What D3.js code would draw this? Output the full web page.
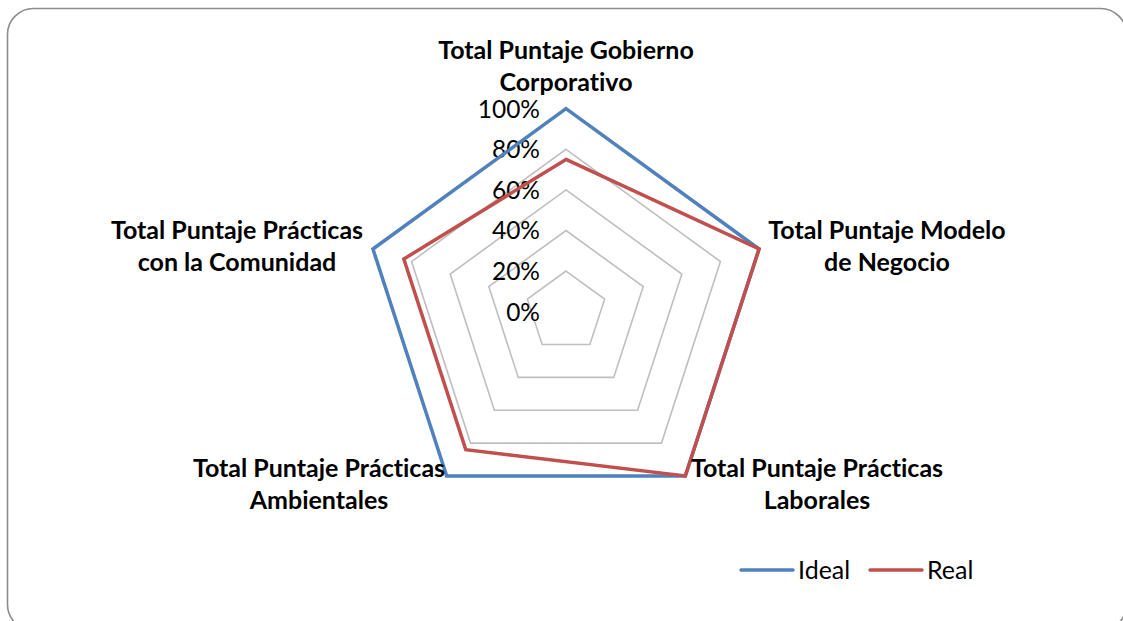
<!DOCTYPE html>
<html>
<head>
<meta charset="utf-8">
<script src="https://cdn.jsdelivr.net/npm/d3@7"></script>
<style>
  body { margin: 0; background: #fff; }
  text { font-family: Lato, "Open Sans", sans-serif; fill: #000; font-variant-ligatures: none; font-feature-settings: "liga" 0, "dlig" 0; }
</style>
</head>
<body>
<script>
// chart data
const categories = [
  ["Total Puntaje Gobierno", "Corporativo"],
  ["Total Puntaje Modelo", "de Negocio"],
  ["Total Puntaje Prácticas", "Laborales"],
  ["Total Puntaje Prácticas", "Ambientales"],
  ["Total Puntaje Prácticas", "con la Comunidad"]
];
const ideal = [1, 1, 1, 1, 1];
const real = [0.75, 1, 1, 0.84, 0.84];
const tickValues = [0, 0.2, 0.4, 0.6, 0.8, 1];
const seriesNames = ["Ideal", "Real"];

let svg = d3.select('body')
  .append('svg')
  .attr('width', 1123)
  .attr('height', 621);

// frame
svg.append('rect')
  .attr('x', 7.5)
  .attr('y', 8.5)
  .attr('width', 1119)
  .attr('height', 622)
  .attr('rx', 26)
  .attr('fill', 'white')
  .attr('stroke', '#8c8c8c')
  .attr('stroke-width', 1.6);

const cx = 566, cy = 311.7;
let r = d3.scaleLinear().domain([0, 1]).range([0, 203]);
let angle = d3.scaleLinear().domain([0, categories.length]).range([0, 2 * Math.PI]);

function pt(i, v) {
  let a = angle(i);
  return [cx + r(v) * Math.sin(a), cy - r(v) * Math.cos(a)];
}

// grid rings
let ringLine = d3.line().curve(d3.curveLinearClosed);
svg.selectAll('.ring')
  .data(tickValues.filter(t => t > 0))
  .enter()
  .append('path')
  .attr('d', t => ringLine(categories.map((c, i) => pt(i, t))))
  .attr('fill', 'none')
  .attr('stroke', '#bfbfbf')
  .attr('stroke-width', 1.6);

// tick labels
svg.selectAll('.tick')
  .data(tickValues)
  .enter()
  .append('text')
  .attr('x', cx - 26)
  .attr('y', t => cy - r(t))
  .attr('dy', '0.36em')
  .attr('text-anchor', 'end')
  .style('font-size', '24.5px')
  .text(d3.format('.0%'));

// series
const series = [
  { name: seriesNames[0], values: ideal, color: '#4f81bd' },
  { name: seriesNames[1], values: real, color: '#c0504d' }
];
svg.selectAll('.series')
  .data(series)
  .enter()
  .append('path')
  .attr('d', s => ringLine(s.values.map((v, i) => pt(i, v))))
  .attr('fill', 'none')
  .attr('stroke', s => s.color)
  .attr('stroke-width', 3.5)
  .attr('stroke-linejoin', 'miter');

// category labels
const labelPos = [[566, 50], [887, 230], [817, 468], [319, 468], [237, 230]];
categories.forEach((c, i) => {
  let t = svg.append('text')
    .attr('text-anchor', 'middle')
    .attr('font-weight', 'bold')
    .style('font-size', '25px');
  c.forEach((line, j) => {
    t.append('tspan')
      .attr('x', labelPos[i][0])
      .attr('y', labelPos[i][1] + j * 32)
      .attr('dy', '0.36em')
      .text(line);
  });
});

// legend
let legend = svg.selectAll('.legend')
  .data(series)
  .enter()
  .append('g')
  .attr('transform', (s, i) => 'translate(' + (741 + i * 129) + ',570)');
legend.append('line')
  .attr('x1', 0).attr('x2', 52)
  .attr('stroke', s => s.color)
  .attr('stroke-width', 3.5)
  .attr('stroke-linecap', 'round');
legend.append('text')
  .attr('x', 57)
  .attr('dy', '0.36em')
  .style('font-size', '25px')
  .text(s => s.name);
</script>
</body>
</html>
